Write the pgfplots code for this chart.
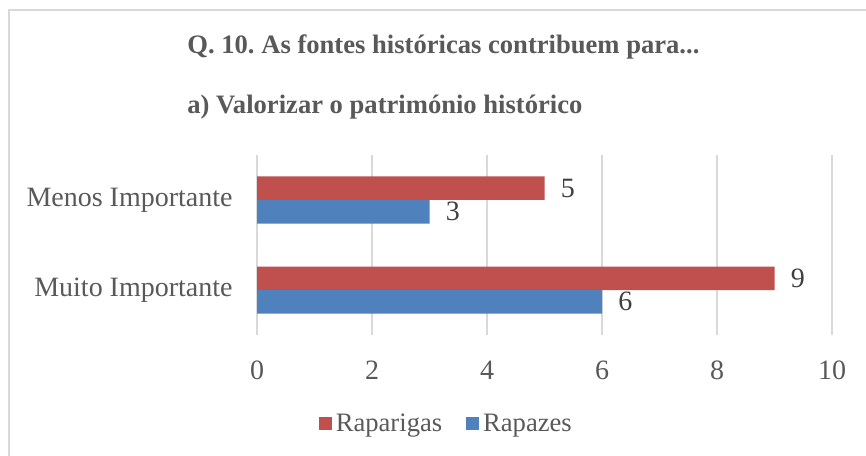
\documentclass[border=0pt]{standalone}
\usepackage{fontspec}
\setmainfont{Liberation Serif}
\usepackage{pgfplots}
\pgfplotsset{compat=1.18}
\definecolor{cRed}{HTML}{C0504D}
\definecolor{cBlue}{HTML}{4F81BD}
\definecolor{cTxt}{HTML}{595959}
\definecolor{cLab}{HTML}{404040}
\definecolor{cGrid}{HTML}{D9D9D9}
\frenchspacing
\begin{document}
\begin{tikzpicture}[x=0.5pt,y=0.5pt]
\path[use as bounding box, fill=white] (0,0) rectangle (866,455);
\draw[cGrid, line width=0.75pt] (9,445) rectangle (900,-20);
\node[anchor=base west, inner sep=0, text=cTxt, font=\fontsize{13.3}{16}\selectfont\bfseries] at (187,401) {Q. 10. As fontes históricas contribuem para...};
\node[anchor=base west, inner sep=0, text=cTxt, font=\fontsize{13.3}{16}\selectfont\bfseries] at (187,341) {a) Valorizar o património histórico};
\begin{axis}[
  at={(128.5pt,60pt)}, anchor=south west,
  scale only axis, width=287.5pt, height=90pt,
  xmin=0, xmax=10, ymin=-0.5, ymax=1.5,
  xtick={0,2,...,10}, ytick={0,1},
  yticklabels={Muito Importante,Menos Importante},
  xbar, bar width=11.75pt,
  axis line style={draw=none},
  major tick length=0pt,
  xmajorgrids, grid style={cGrid, line width=0.75pt},
  /pgf/number format/assume math mode=true,
  xticklabel style={anchor=base, yshift=-22.25pt, inner sep=0pt, font=\fontsize{14}{17}\selectfont, text=cTxt},
  yticklabel style={anchor=east, xshift=-12pt, inner sep=0pt, font=\fontsize{14}{17}\selectfont, text=cTxt},
  nodes near coords,
  nodes near coords style={anchor=west, inner sep=0pt, xshift=8pt, font=\fontsize{14}{17}\selectfont, text=cLab},
  legend style={at={(axis description cs:0.331,-0.494)}, anchor=center, draw=none, fill=none, legend columns=2, font=\fontsize{13.3}{16}\selectfont, text=cTxt, /tikz/every even column/.append style={column sep=10pt}},
  legend image code/.code={\fill[#1] (0pt,-3.25pt) rectangle (6.5pt,3.25pt);},
]
\addplot[fill=cRed, draw=none, bar shift=5.875pt] coordinates {(9,0) (5,1)};
\addplot[fill=cBlue, draw=none, bar shift=-5.875pt] coordinates {(6,0) (3,1)};
\legend{Raparigas, Rapazes}
\end{axis}
\end{tikzpicture}
\end{document}
